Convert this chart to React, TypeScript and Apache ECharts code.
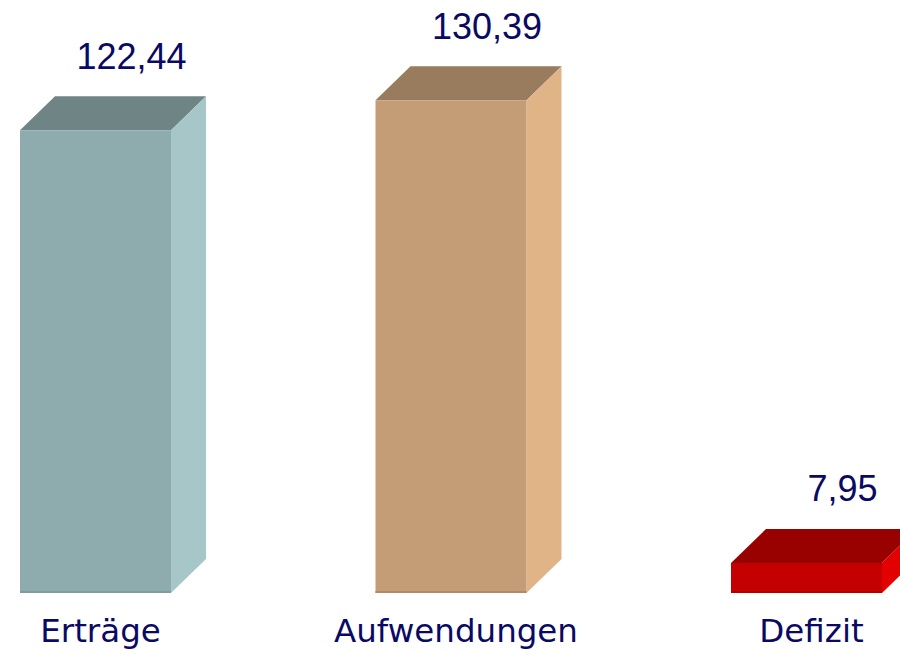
import React, { useEffect, useRef } from "react";
import * as echarts from "echarts";

const categories = ["Erträge", "Aufwendungen", "Defizit"];
const values = [122.44, 130.39, 7.95];
const valueLabels = ["122,44", "130,39", "7,95"];

const frontColors = ["#8eacae", "#c49c75", "#c40000"];
const topColors = ["#6f8585", "#997b5d", "#990000"];
const sideColors = ["#a7c6c8", "#e1b488", "#e20000"];
const edgeColors = ["#7f9b9d", "#b08a66", "#b00000"];

const TEXT_COLOR = "#0a0a64";
const FRONT_W = 151;
const DX = 35;
const DY = 34;

export default function App() {
  const ref = useRef<HTMLDivElement>(null);

  useEffect(() => {
    if (!ref.current) return;
    const chart = echarts.init(ref.current, null, { renderer: "svg" });

    const renderItem = (params: any, api: any) => {
      const idx = api.value(0);
      const v = api.value(1);
      const top = api.coord([idx, v]);
      const base = api.coord([idx, 0]);
      const cx = top[0];
      const x0 = cx - FRONT_W / 2;
      const x1 = cx + FRONT_W / 2;
      const yT = top[1];
      const yB = base[1];
      const i = params.dataIndex;
      return {
        type: "group",
        children: [
          {
            type: "polygon",
            shape: { points: [[x0, yT], [x0 + DX, yT - DY], [x1 + DX, yT - DY], [x1, yT]] },
            style: { fill: topColors[i] },
          },
          {
            type: "polygon",
            shape: { points: [[x1, yT], [x1 + DX, yT - DY], [x1 + DX, yB - DY], [x1, yB]] },
            style: { fill: sideColors[i] },
          },
          {
            type: "rect",
            shape: { x: x0, y: yT, width: FRONT_W, height: yB - yT },
            style: { fill: frontColors[i] },
          },
          {
            type: "rect",
            shape: { x: x0, y: yB - 2, width: FRONT_W, height: 2 },
            style: { fill: edgeColors[i] },
          },
          {
            type: "text",
            x: cx + 36,
            y: yT - 74,
            style: {
              text: valueLabels[i],
              fill: TEXT_COLOR,
              fontSize: 36,
              fontFamily: "Liberation Sans",
              align: "center",
              verticalAlign: "middle",
            },
          },
        ],
      };
    };

    chart.setOption({
      animation: false,
      grid: { left: 95.5, right: 93.5, top: 64, bottom: 61, containLabel: false },
      xAxis: {
        type: "category",
        data: categories,
        boundaryGap: false,
        axisLine: { show: false },
        axisTick: { show: false },
        splitLine: { show: false },
        axisLabel: {
          color: TEXT_COLOR,
          fontSize: 32.5,
          fontFamily: "DejaVu Sans",
          margin: 21,
          padding: [0, 0, 0, 10],
          interval: 0,
        },
      },
      yAxis: {
        type: "value",
        min: 0,
        max: 140,
        show: false,
        splitLine: { show: false },
      },
      series: [
        {
          type: "custom",
          renderItem,
          clip: false,
          data: values.map((v, i) => [i, v]),
        },
      ],
    });

    return () => chart.dispose();
  }, []);

  return (
    <div
      ref={ref}
      style={{ position: "fixed", left: 0, top: 0, width: 900, height: 654, background: "#ffffff" }}
    />
  );
}
